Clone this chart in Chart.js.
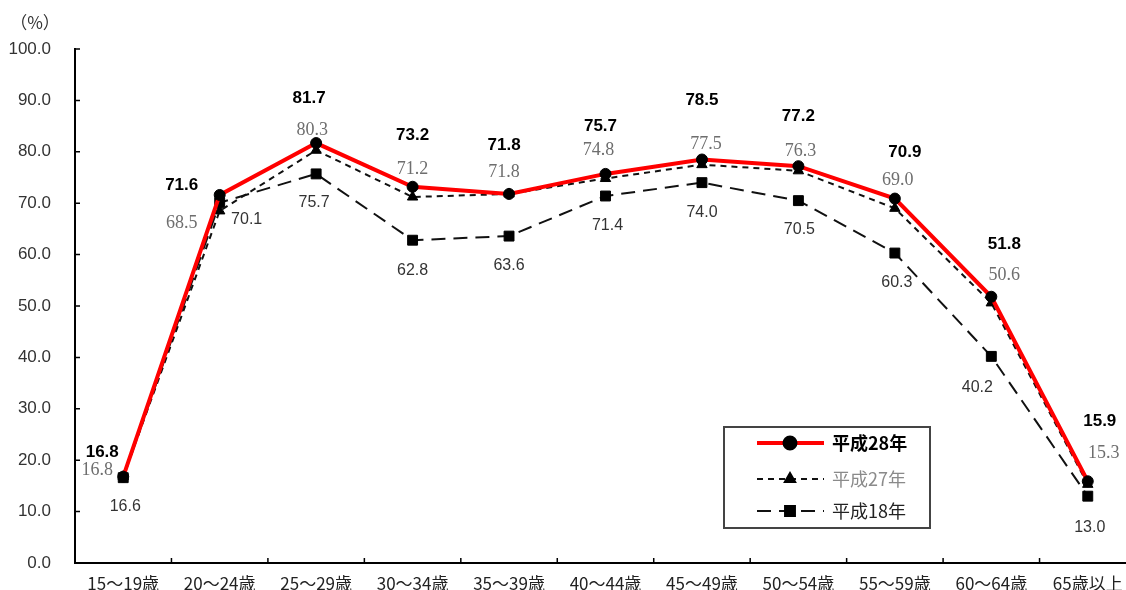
<!DOCTYPE html>
<html>
<head>
<meta charset="utf-8">
<script src="https://cdn.jsdelivr.net/npm/chart.js@4"></script>
<style>
  html, body { margin: 0; padding: 0; background: #fff; overflow: hidden; }
  #wrap { width: 1150px; height: 590px; }
</style>
</head>
<body>
<div id="wrap"><canvas id="rate-chart" width="1150" height="590"></canvas></div>
<script>
var ageGroups = ['15～19歳', '20～24歳', '25～29歳', '30～34歳', '35～39歳', '40～44歳',
                 '45～49歳', '50～54歳', '55～59歳', '60～64歳', '65歳以上'];
var seriesNames = ['平成28年', '平成27年', '平成18年'];
var rateH28 = [16.8, 71.6, 81.7, 73.2, 71.8, 75.7, 78.5, 77.2, 70.9, 51.8, 15.9];
var rateH27 = [16.8, 68.5, 80.3, 71.2, 71.8, 74.8, 77.5, 76.3, 69.0, 50.6, 15.3];
var rateH18 = [16.6, 70.1, 75.7, 62.8, 63.6, 71.4, 74.0, 70.5, 60.3, 40.2, 13.0];
var yTicks = [0, 10, 20, 30, 40, 50, 60, 70, 80, 90, 100];

// where each value label sits, relative to its point (dx, dy)
var labelShift = [
    [[-21,-24],[-38,-10],[-7,-45],[0,-51],[-5,-49],[-5,-48],[0,-59],[0,-50],[10,-46],[13,-52],[12,-60]],
    [[-26,-6],[-38,12],[-4,-20],[0,-28],[-5,-22],[-7,-28],[4,-20],[2,-20],[3,-28],[13,-28],[16,-31]],
    [[2,29],[27,17],[-2,29],[0,30],[0,29],[2,30],[0,30],[1,29],[2,30],[-14,31],[2,31]]
];
var labelStyle = [
    { font: 'bold 17px "Liberation Sans", Arial, sans-serif', color: '#000' },
    { font: '18px "Liberation Serif", "Times New Roman", serif', color: '#6e6e6e' },
    { font: '16px "Liberation Sans", Arial, sans-serif', color: '#333' }
];

var valueLabels = {
    id: 'valueLabels',
    afterDatasetsDraw: function(chart) {
        var ctx = chart.ctx;
        ctx.save();
        ctx.textAlign = 'center';
        ctx.textBaseline = 'middle';
        chart.data.datasets.forEach(function(ds, i) {
            var meta = chart.getDatasetMeta(i);
            ctx.font = labelStyle[i].font;
            ctx.fillStyle = labelStyle[i].color;
            meta.data.forEach(function(pt, j) {
                var s = labelShift[i][j];
                ctx.fillText(ds.data[j].toFixed(1), pt.x + s[0], pt.y + s[1]);
            });
        });
        ctx.restore();
    }
};

// short inward tick marks, unit label and the boxed legend
var frameExtras = {
    id: 'frameExtras',
    afterDraw: function(chart) {
        var ctx = chart.ctx;
        var area = chart.chartArea;
        var xs = chart.scales.x, ys = chart.scales.y;
        ctx.save();
        ctx.strokeStyle = '#000';
        ctx.lineWidth = 1.5;
        ctx.beginPath();
        yTicks.forEach(function(v) {
            var y = ys.getPixelForValue(v);
            ctx.moveTo(area.left, y);
            ctx.lineTo(area.left + 5, y);
        });
        for (var k = 1; k < ageGroups.length; k++) {
            var x = (xs.getPixelForValue(k - 1) + xs.getPixelForValue(k)) / 2;
            ctx.moveTo(x, area.bottom);
            ctx.lineTo(x, area.bottom - 5);
        }
        ctx.stroke();

        ctx.fillStyle = '#333';
        ctx.font = '17px "Noto Sans CJK JP", sans-serif';
        ctx.textAlign = 'center';
        ctx.textBaseline = 'middle';
        ctx.fillText('（%）', 35, 23);

        // legend box
        var bx = 724, by = 427, bw = 206, bh = 101;
        ctx.strokeStyle = '#444';
        ctx.lineWidth = 2;
        ctx.strokeRect(bx, by, bw, bh);
        var rows = [443, 479, 511];
        var textColors = ['#000', '#8a8a8a', '#222'];
        var textFonts = ['bold 18px "Noto Sans CJK JP", sans-serif',
                         '18px "Noto Sans CJK JP", sans-serif',
                         '18px "Noto Sans CJK JP", sans-serif'];
        chart.data.datasets.forEach(function(ds, i) {
            var y = rows[i];
            ctx.strokeStyle = ds.borderColor;
            ctx.lineWidth = ds.borderWidth;
            ctx.setLineDash(ds.borderDash || []);
            ctx.beginPath();
            ctx.moveTo(757, y);
            ctx.lineTo(824, y);
            ctx.stroke();
            ctx.setLineDash([]);
            ctx.strokeStyle = '#000';
            ctx.fillStyle = '#000';
            Chart.helpers.drawPoint(ctx, {
                pointStyle: ds.pointStyle,
                radius: ds.pointRadius,
                borderWidth: 1
            }, 790, y);
            ctx.font = textFonts[i];
            ctx.fillStyle = textColors[i];
            ctx.textAlign = 'left';
            ctx.fillText(ds.label, 832, y);
        });
        ctx.restore();
    }
};

var rateConfig = {
    type: 'line',
    data: {
        labels: ageGroups,
        datasets: [{
            label: seriesNames[0],
            data: rateH28,
            borderColor: '#ff0000',
            borderWidth: 4,
            pointStyle: 'circle',
            pointRadius: 5.5,
            pointBorderWidth: 1,
            pointBackgroundColor: '#000',
            pointBorderColor: '#000',
            order: 0
        }, {
            label: seriesNames[1],
            data: rateH27,
            borderColor: '#111',
            borderWidth: 2,
            borderDash: [6, 5],
            pointStyle: 'triangle',
            pointRadius: 6,
            pointBorderWidth: 1,
            pointBackgroundColor: '#000',
            pointBorderColor: '#000',
            order: 1
        }, {
            label: seriesNames[2],
            data: rateH18,
            borderColor: '#111',
            borderWidth: 2,
            borderDash: [14, 8],
            pointStyle: 'rect',
            pointRadius: 7,
            pointBorderWidth: 1,
            pointBackgroundColor: '#000',
            pointBorderColor: '#000',
            order: 2
        }]
    },
    options: {
        responsive: false,
        animation: false,
        layout: { padding: { top: 49, right: 14, left: 0, bottom: 0 } },
        plugins: {
            legend: { display: false },
            tooltip: { enabled: false }
        },
        scales: {
            x: {
                offset: true,
                grid: { display: false },
                border: { display: true, color: '#000', width: 2 },
                ticks: {
                    color: '#222',
                    padding: 2,
                    maxRotation: 0,
                    autoSkip: false,
                    font: { family: '"Noto Sans CJK JP", sans-serif', size: 17 }
                },
                afterFit: function(scale) { scale.height = 27; }
            },
            y: {
                min: 0,
                max: 100,
                grid: { display: false },
                border: { display: true, color: '#000', width: 2 },
                afterBuildTicks: function(scale) {
                    scale.ticks = yTicks.map(function(v) { return { value: v }; });
                },
                ticks: {
                    color: '#333',
                    padding: 16,
                    font: { family: '"Liberation Sans", Arial, sans-serif', size: 17 },
                    callback: function(v) { return v.toFixed(1); }
                },
                afterFit: function(scale) { scale.width = 75; }
            }
        }
    },
    plugins: [valueLabels, frameExtras]
};

window.onload = function() {
    var ctx = document.getElementById('rate-chart').getContext('2d');
    window.rateChart = new Chart(ctx, rateConfig);
};
</script>
</body>
</html>
